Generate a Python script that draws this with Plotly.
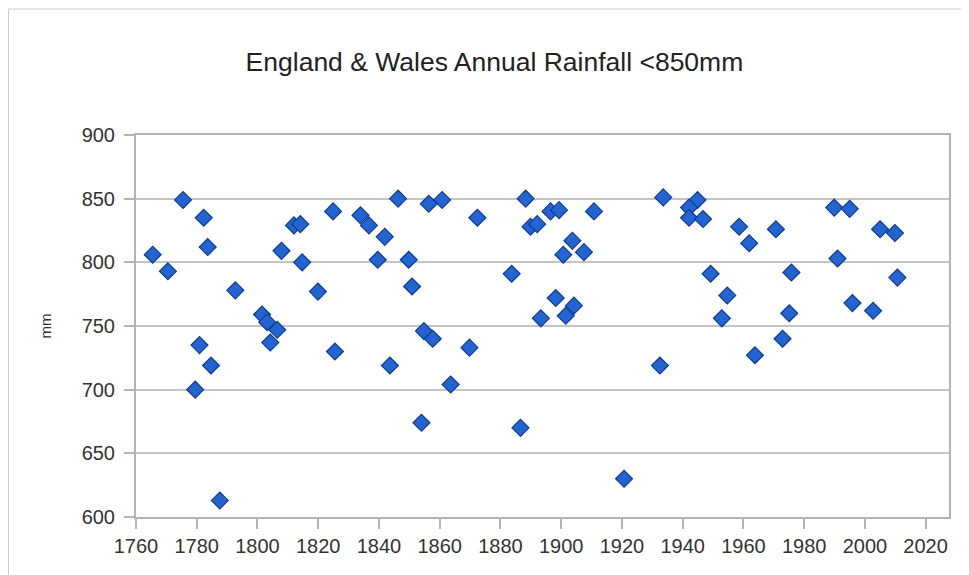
import plotly.graph_objects as go

years = [1765.5, 1770.5, 1775.5, 1782.3, 1783.6, 1780.9, 1784.7, 1779.5, 1787.6, 1792.7,
         1801.5, 1803.2, 1806.5, 1804.2, 1807.9, 1812.0, 1814.1, 1814.7, 1819.9, 1824.9,
         1825.5, 1833.9, 1836.7, 1841.9, 1839.6, 1843.6, 1846.3, 1849.8, 1850.9, 1856.4,
         1860.8, 1872.4, 1854.8, 1857.7, 1869.8, 1863.6, 1854.0, 1888.3, 1889.9, 1892.1,
         1896.5, 1899.3, 1910.8, 1903.7, 1900.7, 1907.5, 1883.7, 1898.2, 1901.5, 1904.2,
         1893.3, 1886.6, 1920.7, 1932.5, 1933.6, 1944.9, 1942.1, 1942.1, 1946.7, 1958.6,
         1961.9, 1970.7, 1949.2, 1954.7, 1952.9, 1963.8, 1975.8, 1975.1, 1972.9, 1989.9,
         1995.0, 1991.0, 1995.9, 2002.7, 2005.0, 2009.9, 2010.7]
rain_mm = [806, 793, 849, 835, 812, 735, 719, 700, 613, 778,
           759, 753, 747, 737, 809, 829, 830, 800, 777, 840,
           730, 837, 829, 820, 802, 719, 850, 802, 781, 846,
           849, 835, 746, 740, 733, 704, 674, 850, 828, 830,
           840, 841, 840, 817, 806, 808, 791, 772, 758, 766,
           756, 670, 630, 719, 851, 849, 843, 835, 834, 828,
           815, 826, 791, 774, 756, 727, 792, 760, 740, 843,
           842, 803, 768, 762, 826, 823, 788]

x_ticks = list(range(1760, 2021, 20))
y_ticks = list(range(600, 901, 50))

fig = go.Figure()
fig.add_trace(go.Scatter(
    x=years, y=rain_mm, mode="markers",
    marker=dict(symbol="diamond", size=13, color="#2464d0",
                line=dict(color="#0b3c95", width=1.2)),
    showlegend=False,
))

fig.update_layout(
    width=969, height=575,
    margin=dict(l=128, r=28, t=127, b=66),
    paper_bgcolor="white", plot_bgcolor="white",
    font=dict(family="Liberation Sans, Arial, sans-serif", color="#333333"),
    title=dict(text="England &amp; Wales Annual Rainfall &lt;850mm",
               x=0.502, xref="container", xanchor="center",
               y=0.906, yref="container", yanchor="middle",
               font=dict(size=26.5, color="#222222")),
    shapes=[dict(type="rect", xref="paper", yref="paper",
                 x0=-0.1568, x1=1.2, y0=-0.4, y1=1.3298,
                 line=dict(color="#cccccc", width=1), fillcolor="rgba(0,0,0,0)",
                 layer="below")],
)
fig.update_xaxes(
    range=[1760, 2027.7], tickvals=x_ticks, ticktext=[str(v) for v in x_ticks],
    showgrid=False, showline=True, mirror=True, linecolor="#b3b3b3", linewidth=2,
    ticks="outside", ticklen=10, tickcolor="#b3b3b3", tickwidth=2,
    tickfont=dict(size=20, color="#333333"), zeroline=False,
)
fig.update_yaxes(
    range=[600, 900], tickvals=y_ticks, ticktext=[str(v) for v in y_ticks],
    showgrid=True, gridcolor="#c4c4c4", gridwidth=2,
    showline=True, mirror=True, linecolor="#b3b3b3", linewidth=2,
    ticks="outside", ticklen=10, tickcolor="#b3b3b3", tickwidth=2,
    ticklabelstandoff=5,
    tickfont=dict(size=20, color="#333333"), zeroline=False,
    title=dict(text="mm", font=dict(size=15, color="#333333"), standoff=26),
)

fig.write_html("out.html")
